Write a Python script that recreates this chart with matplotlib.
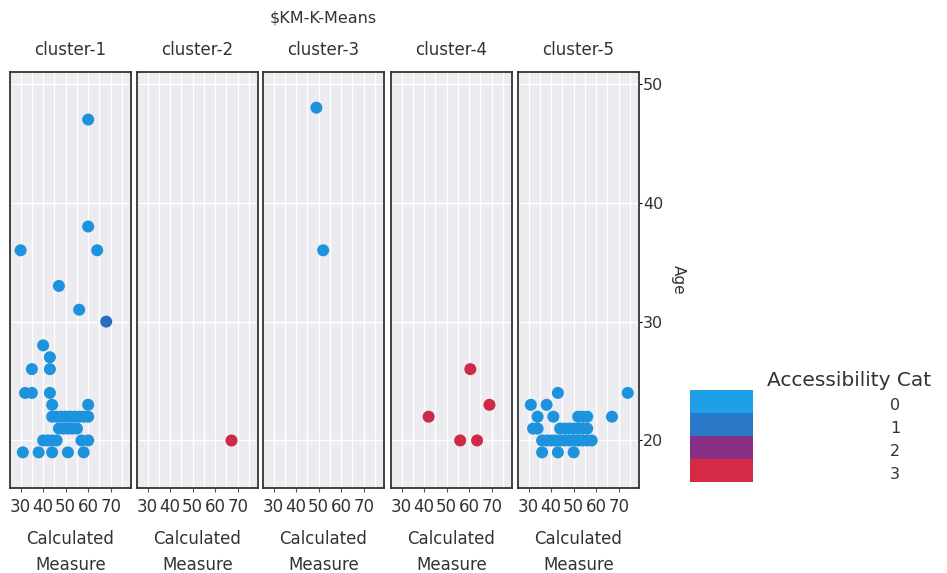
import matplotlib
matplotlib.use("Agg")
import matplotlib.pyplot as plt
from matplotlib.patches import Rectangle

plt.rcParams['font.family'] = ['DejaVu Sans']

clusters = ["cluster-1", "cluster-2", "cluster-3", "cluster-4", "cluster-5"]

c1_x = [60, 60, 30, 64, 47, 56, 68, 40, 43, 35, 43, 32, 35, 43, 44, 60,
        44, 46, 48, 50, 52, 54, 56, 58, 60,
        47, 49, 51, 53, 55,
        40, 42, 44, 46, 57, 60,
        31, 38, 44, 51, 58]
c1_y = [47, 38, 36, 36, 33, 31, 30, 28, 27, 26, 26, 24, 24, 24, 23, 23,
        22, 22, 22, 22, 22, 22, 22, 22, 22,
        21, 21, 21, 21, 21,
        20, 20, 20, 20, 20, 20,
        19, 19, 19, 19, 19]
c1_cat = [0, 0, 0, 0, 0, 0, 1] + [0] * 34

c2_x = [67]
c2_y = [20]
c2_cat = [3]

c3_x = [49, 52]
c3_y = [48, 36]
c3_cat = [0, 0]

c4_x = [60.5, 69, 42, 56, 63.5]
c4_y = [26, 23, 22, 20, 20]
c4_cat = [3, 3, 3, 3, 3]

c5_x = [43, 74, 31, 38, 34, 41, 52, 54, 56, 67,
        32, 34, 44, 46, 48, 50, 52, 54, 56,
        36, 38, 40, 42, 44, 46, 48, 50, 52, 54, 56, 58,
        36, 43, 50]
c5_y = [24, 24, 23, 23, 22, 22, 22, 22, 22, 22,
        21, 21, 21, 21, 21, 21, 21, 21, 21,
        20, 20, 20, 20, 20, 20, 20, 20, 20, 20, 20, 20,
        19, 19, 19]
c5_cat = [0] * len(c5_x)

data = [(c1_x, c1_y, c1_cat), (c2_x, c2_y, c2_cat), (c3_x, c3_y, c3_cat),
        (c4_x, c4_y, c4_cat), (c5_x, c5_y, c5_cat)]

cat_labels = ["0", "1", "2", "3"]
cat_colors = ["#1e93dd", "#2a6ec0", "#86318a", "#cc2a48"]
legend_colors = ["#1ea0e8", "#2a78c8", "#8a2f86", "#d42a45"]

x_ticks = [30, 40, 50, 60, 70]
y_ticks = [20, 30, 40, 50]

W, H = 947, 573
fig = plt.figure(figsize=(W / 100, H / 100), dpi=100)

lefts = [10, 137, 263, 391, 518]
pw = 121
top, bottom = 72, 488
text_col = "#333333"

for i, (xs, ys, cats) in enumerate(data):
    ax = fig.add_axes([lefts[i] / W, (H - bottom) / H, pw / W, (bottom - top) / H])
    ax.set_facecolor("#ececf0")
    ax.set_xlim(25.3, 79)
    ax.set_ylim(16, 51)
    ax.set_xticks(x_ticks)
    ax.set_xticks([35, 45, 55, 65, 75], minor=True)
    ax.set_yticks(y_ticks)
    ax.grid(True, which="both", color="white", lw=1)
    ax.set_axisbelow(True)
    ax.scatter(xs, ys, c=[cat_colors[c] for c in cats], s=75, linewidths=0, zorder=3)
    for sp in ax.spines.values():
        sp.set_color("#333333")
        sp.set_linewidth(1.3)
    ax.tick_params(axis="x", which="major", length=3, labelsize=12, colors="#555555",
                   labelcolor=text_col, pad=4)
    ax.tick_params(axis="x", which="minor", length=0)
    ax.set_xticklabels([str(t) for t in x_ticks])
    if i == 4:
        ax.yaxis.tick_right()
        ax.tick_params(axis="y", length=2, labelsize=11.5, labelcolor=text_col, pad=1)
        ax.set_ylabel("Age", rotation=270, fontsize=11, color=text_col, labelpad=16)
        ax.yaxis.set_label_position("right")
    else:
        ax.tick_params(axis="y", length=0, labelleft=False)
    ax.set_xlabel("Calculated\nMeasure", fontsize=12, color=text_col, labelpad=10,
                  linespacing=1.6)
    ax.set_title(clusters[i], fontsize=12, color=text_col, pad=12)

fig.text(323 / W, 1 - 18 / H, "$KM-K-Means", ha="center", va="center",
         fontsize=11.5, color=text_col)

# legend
fig.text(767 / W, 1 - 381 / H, "Accessibility Cat", ha="left", va="center",
         fontsize=14.5, color=text_col)
lx, lw_, ly0, bh = 690, 63, 390, 23
for j, (lab, col) in enumerate(zip(cat_labels, legend_colors)):
    y_top = ly0 + j * bh
    fig.patches.append(Rectangle((lx / W, 1 - (y_top + bh) / H), lw_ / W, bh / H,
                                 transform=fig.transFigure, facecolor=col,
                                 edgecolor="none"))
    fig.text(895 / W, 1 - (y_top + bh / 2 + 4) / H, lab, ha="center", va="center",
             fontsize=11.5, color=text_col)

fig.savefig("out.png", dpi=100)
